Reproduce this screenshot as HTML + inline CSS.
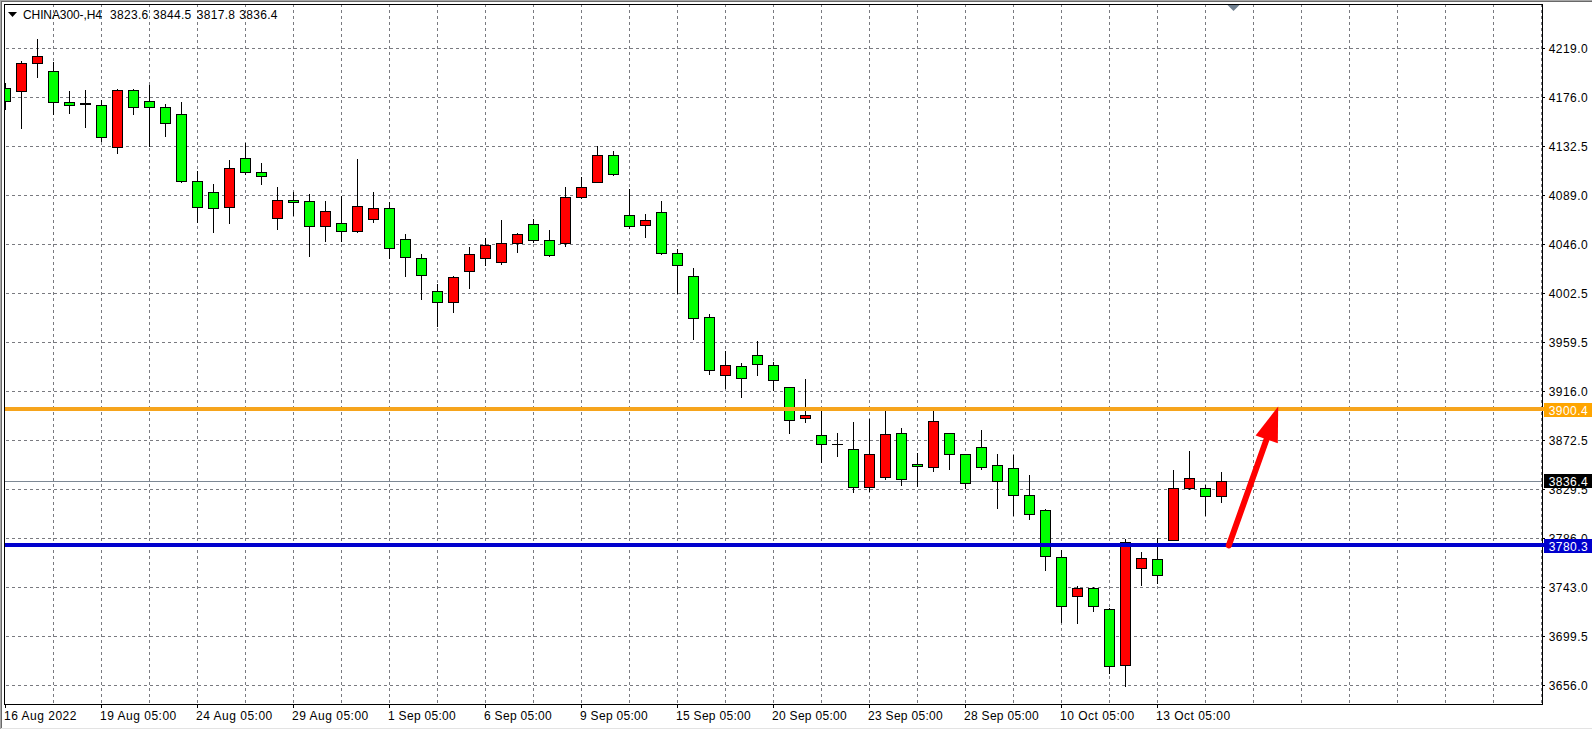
<!DOCTYPE html>
<html><head><meta charset="utf-8"><title>CHINA300-,H4</title>
<style>
html,body{margin:0;padding:0;background:#fff;}
body{width:1592px;height:730px;position:relative;overflow:hidden;font-family:"Liberation Sans",sans-serif;}
.t{position:absolute;font-size:12px;line-height:14px;height:14px;white-space:pre;color:#000;letter-spacing:0.3px;}
.p{left:1548.7px;letter-spacing:0.45px;}
.b{left:1544px;width:43.3px;padding:1px 0 0 4.7px;height:13px;color:#fff;letter-spacing:0.45px;overflow:hidden;}
</style></head><body>
<svg width="1592" height="730" viewBox="0 0 1592 730" style="position:absolute;left:0;top:0" shape-rendering="crispEdges">
<defs><clipPath id="cp"><rect x="5" y="5" width="1537" height="699"/></clipPath></defs>
<g stroke="#797a80" stroke-width="1" stroke-dasharray="3 3" fill="none">
<line x1="6" y1="48.5" x2="1542" y2="48.5"/>
<line x1="6" y1="97.5" x2="1542" y2="97.5"/>
<line x1="6" y1="146.5" x2="1542" y2="146.5"/>
<line x1="6" y1="195.5" x2="1542" y2="195.5"/>
<line x1="6" y1="244.5" x2="1542" y2="244.5"/>
<line x1="6" y1="293.5" x2="1542" y2="293.5"/>
<line x1="6" y1="342.5" x2="1542" y2="342.5"/>
<line x1="6" y1="391.5" x2="1542" y2="391.5"/>
<line x1="6" y1="440.5" x2="1542" y2="440.5"/>
<line x1="6" y1="489.5" x2="1542" y2="489.5"/>
<line x1="6" y1="538.5" x2="1542" y2="538.5"/>
<line x1="6" y1="587.5" x2="1542" y2="587.5"/>
<line x1="6" y1="636.5" x2="1542" y2="636.5"/>
<line x1="6" y1="685.5" x2="1542" y2="685.5"/>
<line x1="53.5" y1="4" x2="53.5" y2="704"/>
<line x1="101.5" y1="4" x2="101.5" y2="704"/>
<line x1="149.5" y1="4" x2="149.5" y2="704"/>
<line x1="197.5" y1="4" x2="197.5" y2="704"/>
<line x1="245.5" y1="4" x2="245.5" y2="704"/>
<line x1="293.5" y1="4" x2="293.5" y2="704"/>
<line x1="341.5" y1="4" x2="341.5" y2="704"/>
<line x1="389.5" y1="4" x2="389.5" y2="704"/>
<line x1="437.5" y1="4" x2="437.5" y2="704"/>
<line x1="485.5" y1="4" x2="485.5" y2="704"/>
<line x1="533.5" y1="4" x2="533.5" y2="704"/>
<line x1="581.5" y1="4" x2="581.5" y2="704"/>
<line x1="629.5" y1="4" x2="629.5" y2="704"/>
<line x1="677.5" y1="4" x2="677.5" y2="704"/>
<line x1="725.5" y1="4" x2="725.5" y2="704"/>
<line x1="773.5" y1="4" x2="773.5" y2="704"/>
<line x1="821.5" y1="4" x2="821.5" y2="704"/>
<line x1="869.5" y1="4" x2="869.5" y2="704"/>
<line x1="917.5" y1="4" x2="917.5" y2="704"/>
<line x1="965.5" y1="4" x2="965.5" y2="704"/>
<line x1="1013.5" y1="4" x2="1013.5" y2="704"/>
<line x1="1061.5" y1="4" x2="1061.5" y2="704"/>
<line x1="1109.5" y1="4" x2="1109.5" y2="704"/>
<line x1="1157.5" y1="4" x2="1157.5" y2="704"/>
<line x1="1205.5" y1="4" x2="1205.5" y2="704"/>
<line x1="1253.5" y1="4" x2="1253.5" y2="704"/>
<line x1="1301.5" y1="4" x2="1301.5" y2="704"/>
<line x1="1349.5" y1="4" x2="1349.5" y2="704"/>
<line x1="1397.5" y1="4" x2="1397.5" y2="704"/>
<line x1="1445.5" y1="4" x2="1445.5" y2="704"/>
<line x1="1493.5" y1="4" x2="1493.5" y2="704"/>
<line x1="1541.5" y1="4" x2="1541.5" y2="704"/>
</g>
<rect x="5" y="481" width="1537" height="1" fill="#7d8894"/>
<g clip-path="url(#cp)">
<rect x="5" y="83" width="1" height="27" fill="#000"/>
<rect x="0" y="88" width="11" height="14" fill="#000"/>
<rect x="1" y="89" width="9" height="12" fill="#00ff00"/>
<rect x="21" y="61" width="1" height="68" fill="#000"/>
<rect x="16" y="63" width="11" height="29" fill="#000"/>
<rect x="17" y="64" width="9" height="27" fill="#ff0000"/>
<rect x="37" y="39" width="1" height="39" fill="#000"/>
<rect x="32" y="56" width="11" height="8" fill="#000"/>
<rect x="33" y="57" width="9" height="6" fill="#ff0000"/>
<rect x="53" y="62" width="1" height="53" fill="#000"/>
<rect x="48" y="71" width="11" height="32" fill="#000"/>
<rect x="49" y="72" width="9" height="30" fill="#00ff00"/>
<rect x="69" y="91" width="1" height="23" fill="#000"/>
<rect x="64" y="102" width="11" height="4" fill="#000"/>
<rect x="65" y="103" width="9" height="2" fill="#00ff00"/>
<rect x="85" y="90" width="1" height="38" fill="#000"/>
<rect x="80" y="103" width="11" height="2" fill="#000"/>
<rect x="101" y="100" width="1" height="42" fill="#000"/>
<rect x="96" y="105" width="11" height="33" fill="#000"/>
<rect x="97" y="106" width="9" height="31" fill="#00ff00"/>
<rect x="117" y="89" width="1" height="65" fill="#000"/>
<rect x="112" y="90" width="11" height="58" fill="#000"/>
<rect x="113" y="91" width="9" height="56" fill="#ff0000"/>
<rect x="133" y="89" width="1" height="26" fill="#000"/>
<rect x="128" y="90" width="11" height="18" fill="#000"/>
<rect x="129" y="91" width="9" height="16" fill="#00ff00"/>
<rect x="149" y="85" width="1" height="62" fill="#000"/>
<rect x="144" y="101" width="11" height="7" fill="#000"/>
<rect x="145" y="102" width="9" height="5" fill="#00ff00"/>
<rect x="165" y="104" width="1" height="33" fill="#000"/>
<rect x="160" y="107" width="11" height="17" fill="#000"/>
<rect x="161" y="108" width="9" height="15" fill="#00ff00"/>
<rect x="181" y="102" width="1" height="81" fill="#000"/>
<rect x="176" y="114" width="11" height="68" fill="#000"/>
<rect x="177" y="115" width="9" height="66" fill="#00ff00"/>
<rect x="197" y="171" width="1" height="52" fill="#000"/>
<rect x="192" y="181" width="11" height="27" fill="#000"/>
<rect x="193" y="182" width="9" height="25" fill="#00ff00"/>
<rect x="213" y="184" width="1" height="49" fill="#000"/>
<rect x="208" y="192" width="11" height="17" fill="#000"/>
<rect x="209" y="193" width="9" height="15" fill="#00ff00"/>
<rect x="229" y="160" width="1" height="64" fill="#000"/>
<rect x="224" y="168" width="11" height="40" fill="#000"/>
<rect x="225" y="169" width="9" height="38" fill="#ff0000"/>
<rect x="245" y="143" width="1" height="32" fill="#000"/>
<rect x="240" y="158" width="11" height="15" fill="#000"/>
<rect x="241" y="159" width="9" height="13" fill="#00ff00"/>
<rect x="261" y="163" width="1" height="22" fill="#000"/>
<rect x="256" y="172" width="11" height="5" fill="#000"/>
<rect x="257" y="173" width="9" height="3" fill="#00ff00"/>
<rect x="277" y="187" width="1" height="43" fill="#000"/>
<rect x="272" y="200" width="11" height="19" fill="#000"/>
<rect x="273" y="201" width="9" height="17" fill="#ff0000"/>
<rect x="293" y="192" width="1" height="24" fill="#000"/>
<rect x="288" y="200" width="11" height="3" fill="#000"/>
<rect x="289" y="201" width="9" height="1" fill="#00ff00"/>
<rect x="309" y="194" width="1" height="63" fill="#000"/>
<rect x="304" y="201" width="11" height="26" fill="#000"/>
<rect x="305" y="202" width="9" height="24" fill="#00ff00"/>
<rect x="325" y="201" width="1" height="41" fill="#000"/>
<rect x="320" y="211" width="11" height="16" fill="#000"/>
<rect x="321" y="212" width="9" height="14" fill="#ff0000"/>
<rect x="341" y="196" width="1" height="46" fill="#000"/>
<rect x="336" y="223" width="11" height="9" fill="#000"/>
<rect x="337" y="224" width="9" height="7" fill="#00ff00"/>
<rect x="357" y="159" width="1" height="74" fill="#000"/>
<rect x="352" y="206" width="11" height="26" fill="#000"/>
<rect x="353" y="207" width="9" height="24" fill="#ff0000"/>
<rect x="373" y="192" width="1" height="31" fill="#000"/>
<rect x="368" y="208" width="11" height="12" fill="#000"/>
<rect x="369" y="209" width="9" height="10" fill="#ff0000"/>
<rect x="389" y="202" width="1" height="57" fill="#000"/>
<rect x="384" y="208" width="11" height="41" fill="#000"/>
<rect x="385" y="209" width="9" height="39" fill="#00ff00"/>
<rect x="405" y="234" width="1" height="43" fill="#000"/>
<rect x="400" y="239" width="11" height="19" fill="#000"/>
<rect x="401" y="240" width="9" height="17" fill="#00ff00"/>
<rect x="421" y="254" width="1" height="46" fill="#000"/>
<rect x="416" y="258" width="11" height="18" fill="#000"/>
<rect x="417" y="259" width="9" height="16" fill="#00ff00"/>
<rect x="437" y="284" width="1" height="43" fill="#000"/>
<rect x="432" y="291" width="11" height="12" fill="#000"/>
<rect x="433" y="292" width="9" height="10" fill="#00ff00"/>
<rect x="453" y="276" width="1" height="37" fill="#000"/>
<rect x="448" y="277" width="11" height="26" fill="#000"/>
<rect x="449" y="278" width="9" height="24" fill="#ff0000"/>
<rect x="469" y="247" width="1" height="42" fill="#000"/>
<rect x="464" y="254" width="11" height="18" fill="#000"/>
<rect x="465" y="255" width="9" height="16" fill="#ff0000"/>
<rect x="485" y="238" width="1" height="28" fill="#000"/>
<rect x="480" y="245" width="11" height="14" fill="#000"/>
<rect x="481" y="246" width="9" height="12" fill="#ff0000"/>
<rect x="501" y="220" width="1" height="45" fill="#000"/>
<rect x="496" y="243" width="11" height="20" fill="#000"/>
<rect x="497" y="244" width="9" height="18" fill="#ff0000"/>
<rect x="517" y="233" width="1" height="20" fill="#000"/>
<rect x="512" y="234" width="11" height="10" fill="#000"/>
<rect x="513" y="235" width="9" height="8" fill="#ff0000"/>
<rect x="533" y="219" width="1" height="24" fill="#000"/>
<rect x="528" y="224" width="11" height="17" fill="#000"/>
<rect x="529" y="225" width="9" height="15" fill="#00ff00"/>
<rect x="549" y="230" width="1" height="27" fill="#000"/>
<rect x="544" y="240" width="11" height="16" fill="#000"/>
<rect x="545" y="241" width="9" height="14" fill="#00ff00"/>
<rect x="565" y="187" width="1" height="60" fill="#000"/>
<rect x="560" y="197" width="11" height="47" fill="#000"/>
<rect x="561" y="198" width="9" height="45" fill="#ff0000"/>
<rect x="581" y="177" width="1" height="22" fill="#000"/>
<rect x="576" y="187" width="11" height="11" fill="#000"/>
<rect x="577" y="188" width="9" height="9" fill="#ff0000"/>
<rect x="597" y="146" width="1" height="37" fill="#000"/>
<rect x="592" y="155" width="11" height="28" fill="#000"/>
<rect x="593" y="156" width="9" height="26" fill="#ff0000"/>
<rect x="613" y="151" width="1" height="25" fill="#000"/>
<rect x="608" y="155" width="11" height="20" fill="#000"/>
<rect x="609" y="156" width="9" height="18" fill="#00ff00"/>
<rect x="629" y="189" width="1" height="40" fill="#000"/>
<rect x="624" y="215" width="11" height="12" fill="#000"/>
<rect x="625" y="216" width="9" height="10" fill="#00ff00"/>
<rect x="645" y="214" width="1" height="24" fill="#000"/>
<rect x="640" y="220" width="11" height="6" fill="#000"/>
<rect x="641" y="221" width="9" height="4" fill="#ff0000"/>
<rect x="661" y="201" width="1" height="54" fill="#000"/>
<rect x="656" y="212" width="11" height="42" fill="#000"/>
<rect x="657" y="213" width="9" height="40" fill="#00ff00"/>
<rect x="677" y="249" width="1" height="45" fill="#000"/>
<rect x="672" y="253" width="11" height="13" fill="#000"/>
<rect x="673" y="254" width="9" height="11" fill="#00ff00"/>
<rect x="693" y="268" width="1" height="72" fill="#000"/>
<rect x="688" y="276" width="11" height="43" fill="#000"/>
<rect x="689" y="277" width="9" height="41" fill="#00ff00"/>
<rect x="709" y="314" width="1" height="61" fill="#000"/>
<rect x="704" y="317" width="11" height="54" fill="#000"/>
<rect x="705" y="318" width="9" height="52" fill="#00ff00"/>
<rect x="725" y="351" width="1" height="38" fill="#000"/>
<rect x="720" y="365" width="11" height="11" fill="#000"/>
<rect x="721" y="366" width="9" height="9" fill="#ff0000"/>
<rect x="741" y="363" width="1" height="35" fill="#000"/>
<rect x="736" y="366" width="11" height="13" fill="#000"/>
<rect x="737" y="367" width="9" height="11" fill="#00ff00"/>
<rect x="757" y="341" width="1" height="35" fill="#000"/>
<rect x="752" y="355" width="11" height="10" fill="#000"/>
<rect x="753" y="356" width="9" height="8" fill="#00ff00"/>
<rect x="773" y="362" width="1" height="29" fill="#000"/>
<rect x="768" y="365" width="11" height="16" fill="#000"/>
<rect x="769" y="366" width="9" height="14" fill="#00ff00"/>
<rect x="789" y="387" width="1" height="47" fill="#000"/>
<rect x="784" y="387" width="11" height="34" fill="#000"/>
<rect x="785" y="388" width="9" height="32" fill="#00ff00"/>
<rect x="805" y="379" width="1" height="44" fill="#000"/>
<rect x="800" y="415" width="11" height="4" fill="#000"/>
<rect x="801" y="416" width="9" height="2" fill="#ff0000"/>
<rect x="821" y="409" width="1" height="54" fill="#000"/>
<rect x="816" y="435" width="11" height="10" fill="#000"/>
<rect x="817" y="436" width="9" height="8" fill="#00ff00"/>
<rect x="837" y="433" width="1" height="24" fill="#000"/>
<rect x="832" y="444" width="11" height="1" fill="#000"/>
<rect x="853" y="422" width="1" height="71" fill="#000"/>
<rect x="848" y="449" width="11" height="39" fill="#000"/>
<rect x="849" y="450" width="9" height="37" fill="#00ff00"/>
<rect x="869" y="419" width="1" height="73" fill="#000"/>
<rect x="864" y="454" width="11" height="34" fill="#000"/>
<rect x="865" y="455" width="9" height="32" fill="#ff0000"/>
<rect x="885" y="409" width="1" height="71" fill="#000"/>
<rect x="880" y="434" width="11" height="44" fill="#000"/>
<rect x="881" y="435" width="9" height="42" fill="#ff0000"/>
<rect x="901" y="428" width="1" height="58" fill="#000"/>
<rect x="896" y="433" width="11" height="47" fill="#000"/>
<rect x="897" y="434" width="9" height="45" fill="#00ff00"/>
<rect x="917" y="453" width="1" height="34" fill="#000"/>
<rect x="912" y="464" width="11" height="3" fill="#000"/>
<rect x="913" y="465" width="9" height="1" fill="#00ff00"/>
<rect x="933" y="409" width="1" height="63" fill="#000"/>
<rect x="928" y="421" width="11" height="47" fill="#000"/>
<rect x="929" y="422" width="9" height="45" fill="#ff0000"/>
<rect x="949" y="433" width="1" height="37" fill="#000"/>
<rect x="944" y="433" width="11" height="22" fill="#000"/>
<rect x="945" y="434" width="9" height="20" fill="#00ff00"/>
<rect x="965" y="454" width="1" height="35" fill="#000"/>
<rect x="960" y="454" width="11" height="30" fill="#000"/>
<rect x="961" y="455" width="9" height="28" fill="#00ff00"/>
<rect x="981" y="430" width="1" height="40" fill="#000"/>
<rect x="976" y="447" width="11" height="21" fill="#000"/>
<rect x="977" y="448" width="9" height="19" fill="#00ff00"/>
<rect x="997" y="454" width="1" height="55" fill="#000"/>
<rect x="992" y="465" width="11" height="17" fill="#000"/>
<rect x="993" y="466" width="9" height="15" fill="#00ff00"/>
<rect x="1013" y="455" width="1" height="61" fill="#000"/>
<rect x="1008" y="468" width="11" height="28" fill="#000"/>
<rect x="1009" y="469" width="9" height="26" fill="#00ff00"/>
<rect x="1029" y="475" width="1" height="45" fill="#000"/>
<rect x="1024" y="495" width="11" height="20" fill="#000"/>
<rect x="1025" y="496" width="9" height="18" fill="#00ff00"/>
<rect x="1045" y="509" width="1" height="62" fill="#000"/>
<rect x="1040" y="510" width="11" height="47" fill="#000"/>
<rect x="1041" y="511" width="9" height="45" fill="#00ff00"/>
<rect x="1061" y="550" width="1" height="73" fill="#000"/>
<rect x="1056" y="557" width="11" height="50" fill="#000"/>
<rect x="1057" y="558" width="9" height="48" fill="#00ff00"/>
<rect x="1077" y="586" width="1" height="38" fill="#000"/>
<rect x="1072" y="588" width="11" height="9" fill="#000"/>
<rect x="1073" y="589" width="9" height="7" fill="#ff0000"/>
<rect x="1093" y="587" width="1" height="25" fill="#000"/>
<rect x="1088" y="588" width="11" height="19" fill="#000"/>
<rect x="1089" y="589" width="9" height="17" fill="#00ff00"/>
<rect x="1109" y="608" width="1" height="66" fill="#000"/>
<rect x="1104" y="609" width="11" height="58" fill="#000"/>
<rect x="1105" y="610" width="9" height="56" fill="#00ff00"/>
<rect x="1125" y="539" width="1" height="148" fill="#000"/>
<rect x="1120" y="542" width="11" height="124" fill="#000"/>
<rect x="1121" y="543" width="9" height="122" fill="#ff0000"/>
<rect x="1141" y="552" width="1" height="34" fill="#000"/>
<rect x="1136" y="558" width="11" height="11" fill="#000"/>
<rect x="1137" y="559" width="9" height="9" fill="#ff0000"/>
<rect x="1157" y="538" width="1" height="46" fill="#000"/>
<rect x="1152" y="559" width="11" height="17" fill="#000"/>
<rect x="1153" y="560" width="9" height="15" fill="#00ff00"/>
<rect x="1173" y="470" width="1" height="71" fill="#000"/>
<rect x="1168" y="488" width="11" height="53" fill="#000"/>
<rect x="1169" y="489" width="9" height="51" fill="#ff0000"/>
<rect x="1189" y="451" width="1" height="39" fill="#000"/>
<rect x="1184" y="478" width="11" height="11" fill="#000"/>
<rect x="1185" y="479" width="9" height="9" fill="#ff0000"/>
<rect x="1205" y="485" width="1" height="31" fill="#000"/>
<rect x="1200" y="488" width="11" height="9" fill="#000"/>
<rect x="1201" y="489" width="9" height="7" fill="#00ff00"/>
<rect x="1221" y="472" width="1" height="31" fill="#000"/>
<rect x="1216" y="481" width="11" height="16" fill="#000"/>
<rect x="1217" y="482" width="9" height="14" fill="#ff0000"/>
</g>
<rect x="5" y="407" width="1539" height="4" fill="#f6a41c"/>
<rect x="5" y="543" width="1539" height="4" fill="#0000cd"/>
<g shape-rendering="geometricPrecision">
<line x1="1228.8" y1="545.5" x2="1266.5" y2="439.5" stroke="#ff0000" stroke-width="6" stroke-linecap="round"/>
<polygon points="1278.2,406.6 1255.6,435.4 1277.8,443.2" fill="#ff0000"/>
</g>
<rect x="4.5" y="4.5" width="1538" height="700" fill="none" stroke="#000" stroke-width="1"/>
<rect x="1541" y="407" width="3" height="4" fill="#f6a41c"/>
<rect x="1541" y="543" width="3" height="4" fill="#0000cd"/>
<polygon points="1227.5,5 1239.5,5 1233.5,11" fill="#708090" shape-rendering="geometricPrecision"/>
<polygon points="8,12 17,12 12.5,17" fill="#000" shape-rendering="geometricPrecision"/>
<rect x="1543" y="48" width="2" height="1" fill="#000"/>
<rect x="1543" y="97" width="2" height="1" fill="#000"/>
<rect x="1543" y="146" width="2" height="1" fill="#000"/>
<rect x="1543" y="195" width="2" height="1" fill="#000"/>
<rect x="1543" y="244" width="2" height="1" fill="#000"/>
<rect x="1543" y="293" width="2" height="1" fill="#000"/>
<rect x="1543" y="342" width="2" height="1" fill="#000"/>
<rect x="1543" y="391" width="2" height="1" fill="#000"/>
<rect x="1543" y="440" width="2" height="1" fill="#000"/>
<rect x="1543" y="489" width="2" height="1" fill="#000"/>
<rect x="1543" y="538" width="2" height="1" fill="#000"/>
<rect x="1543" y="587" width="2" height="1" fill="#000"/>
<rect x="1543" y="636" width="2" height="1" fill="#000"/>
<rect x="1543" y="685" width="2" height="1" fill="#000"/>
<rect x="5" y="705" width="1" height="3" fill="#000"/>
<rect x="101" y="705" width="1" height="3" fill="#000"/>
<rect x="197" y="705" width="1" height="3" fill="#000"/>
<rect x="293" y="705" width="1" height="3" fill="#000"/>
<rect x="389" y="705" width="1" height="3" fill="#000"/>
<rect x="485" y="705" width="1" height="3" fill="#000"/>
<rect x="581" y="705" width="1" height="3" fill="#000"/>
<rect x="677" y="705" width="1" height="3" fill="#000"/>
<rect x="773" y="705" width="1" height="3" fill="#000"/>
<rect x="869" y="705" width="1" height="3" fill="#000"/>
<rect x="965" y="705" width="1" height="3" fill="#000"/>
<rect x="1061" y="705" width="1" height="3" fill="#000"/>
<rect x="1157" y="705" width="1" height="3" fill="#000"/>
<rect x="0" y="728" width="1592" height="1" fill="#e3e3e3"/>
<rect x="0" y="0" width="1592" height="1" fill="#a8a8a8"/>
<rect x="0" y="0" width="1" height="729" fill="#a8a8a8"/>
<rect x="1" y="1" width="1591" height="1" fill="#696969"/>
<rect x="1" y="1" width="1" height="727" fill="#696969"/>
</svg>
<div class="t p" style="top:42px">4219.0</div>
<div class="t p" style="top:91px">4176.0</div>
<div class="t p" style="top:140px">4132.5</div>
<div class="t p" style="top:189px">4089.0</div>
<div class="t p" style="top:238px">4046.0</div>
<div class="t p" style="top:287px">4002.5</div>
<div class="t p" style="top:336px">3959.5</div>
<div class="t p" style="top:385px">3916.0</div>
<div class="t p" style="top:434px">3872.5</div>
<div class="t p" style="top:483px">3829.5</div>
<div class="t p" style="top:532px">3786.0</div>
<div class="t p" style="top:581px">3743.0</div>
<div class="t p" style="top:630px">3699.5</div>
<div class="t p" style="top:679px">3656.0</div>
<div class="t" style="left:4px;top:709px;letter-spacing:0.5px">16 Aug 2022</div>
<div class="t" style="left:100px;top:709px;letter-spacing:0.5px">19 Aug 05:00</div>
<div class="t" style="left:196px;top:709px;letter-spacing:0.5px">24 Aug 05:00</div>
<div class="t" style="left:292px;top:709px;letter-spacing:0.5px">29 Aug 05:00</div>
<div class="t" style="left:388px;top:709px;letter-spacing:0.3px">1 Sep 05:00</div>
<div class="t" style="left:484px;top:709px;letter-spacing:0.3px">6 Sep 05:00</div>
<div class="t" style="left:580px;top:709px;letter-spacing:0.3px">9 Sep 05:00</div>
<div class="t" style="left:676px;top:709px;letter-spacing:0.3px">15 Sep 05:00</div>
<div class="t" style="left:772px;top:709px;letter-spacing:0.3px">20 Sep 05:00</div>
<div class="t" style="left:868px;top:709px;letter-spacing:0.3px">23 Sep 05:00</div>
<div class="t" style="left:964px;top:709px;letter-spacing:0.3px">28 Sep 05:00</div>
<div class="t" style="left:1060px;top:709px;letter-spacing:0.5px">10 Oct 05:00</div>
<div class="t" style="left:1156px;top:709px;letter-spacing:0.5px">13 Oct 05:00</div>
<div class="t b" style="top:403px;background:#ffa500">3900.4</div>
<div class="t b" style="top:474px;background:#000">3836.4</div>
<div class="t b" style="top:539px;background:#0000cd">3780.3</div>
<div class="t" style="left:23px;top:8px;letter-spacing:-0.1px">CHINA300-,H4</div>
<div class="t" style="left:110px;top:8px">3823.6</div>
<div class="t" style="left:153px;top:8px">3844.5</div>
<div class="t" style="left:196.8px;top:8px">3817.8</div>
<div class="t" style="left:239.3px;top:8px">3836.4</div>
</body></html>
